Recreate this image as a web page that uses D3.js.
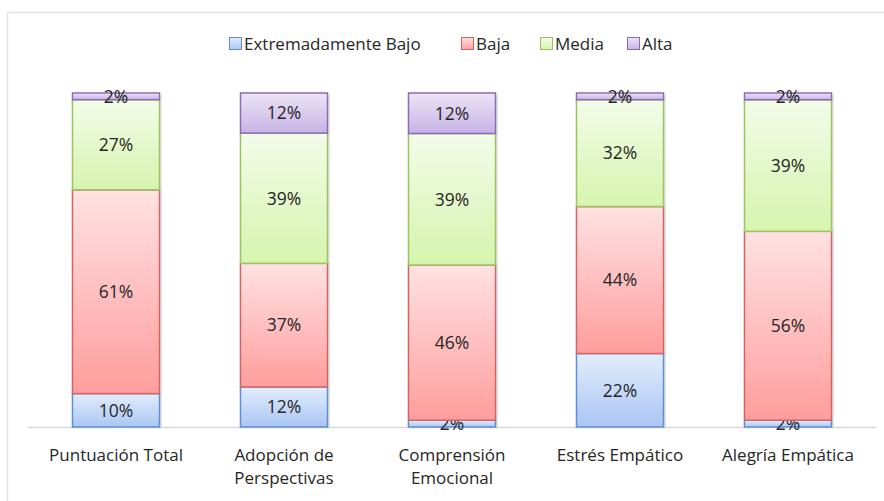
<!DOCTYPE html>
<html>
<head>
<meta charset="utf-8">
<script src="https://cdn.jsdelivr.net/npm/d3@7"></script>
<style>
  body { margin: 0; background: #fff; }
  svg text { font-family: "Open Sans", "Noto Sans", sans-serif; fill: #262626; }
</style>
</head>
<body>
<div id="chart"></div>
<script>
// data
const categories = ["Puntuación Total", "Adopción de Perspectivas", "Comprensión Emocional", "Estrés Empático", "Alegría Empática"];
const tickLabels = [["Puntuación Total"], ["Adopción de", "Perspectivas"], ["Comprensión", "Emocional"], ["Estrés Empático"], ["Alegría Empática"]];
const seriesNames = ["Extremadamente Bajo", "Baja", "Media", "Alta"];
const extBajo = [10, 12, 2, 22, 2];
const baja    = [61, 37, 46, 44, 56];
const media   = [27, 39, 39, 32, 39];
const alta    = [2, 12, 12, 2, 2];

const W = 884, H = 501;

// colours for each series: top of gradient, bottom of gradient, border
const colors = [
  { top: "#e3edfc", bot: "#a9c6f4", line: "#5f8fd3" },
  { top: "#ffe2e2", bot: "#ff9d9d", line: "#d36464" },
  { top: "#f3fce9", bot: "#d6f4ae", line: "#9cc264" },
  { top: "#ece4f6", bot: "#c7b3e5", line: "#8a6db0" }
];

const rows = categories.map((c, i) => ({
  cat: c,
  "Extremadamente Bajo": extBajo[i],
  "Baja": baja[i],
  "Media": media[i],
  "Alta": alta[i]
}));

const svg = d3.select("#chart").append("svg")
    .attr("width", W)
    .attr("height", H);

// gradients
const defs = svg.append("defs");
colors.forEach((c, i) => {
  const g = defs.append("linearGradient")
      .attr("id", "grad" + i)
      .attr("x1", 0).attr("y1", 0).attr("x2", 0).attr("y2", 1);
  g.append("stop").attr("offset", "0%").attr("stop-color", c.top);
  g.append("stop").attr("offset", "100%").attr("stop-color", c.bot);
});

// chart frame (partly visible in the picture)
svg.append("path")
    .attr("d", "M7.5," + H + " V12.5 H" + W)
    .attr("fill", "none")
    .attr("stroke", "#e4e4e4")
    .attr("stroke-width", 1.5);

const x = d3.scaleBand()
    .domain(categories)
    .range([32, 872])
    .paddingInner(0.476)
    .paddingOuter(0.238);

const y = d3.scaleLinear()
    .domain([0, 1])
    .range([427, 93]);

const stack = d3.stack()
    .keys(seriesNames)
    .offset(d3.stackOffsetExpand);
const layers = stack(rows);

// axis line
svg.append("line")
    .attr("x1", 28).attr("x2", 876)
    .attr("y1", y(0) + 0.5).attr("y2", y(0) + 0.5)
    .attr("stroke", "#d9d9d9")
    .attr("stroke-width", 1.5);

// soft shadow behind bars
svg.append("g").selectAll("rect")
    .data(categories)
    .enter()
    .append("rect")
      .attr("x", d => x(d) + 2)
      .attr("y", y(1) + 2)
      .attr("width", x.bandwidth())
      .attr("height", y(0) - y(1) - 2)
      .attr("fill", "#e6e6e6");

const groups = svg.append("g").selectAll("g")
    .data(layers)
    .enter()
    .append("g");

groups.selectAll("rect")
    .data((d, i) => d.map(p => ({ p: p, i: i })))
    .enter()
    .append("rect")
      .attr("x", d => x(d.p.data.cat) + 0.5)
      .attr("y", d => y(d.p[1]))
      .attr("width", x.bandwidth() - 1)
      .attr("height", d => y(d.p[0]) - y(d.p[1]))
      .attr("fill", d => "url(#grad" + d.i + ")")
      .attr("stroke", d => colors[d.i].line)
      .attr("stroke-width", 1.5);

// data labels
groups.selectAll("text")
    .data((d, i) => d.map(p => ({ p: p, i: i })))
    .enter()
    .append("text")
      .attr("x", d => x(d.p.data.cat) + x.bandwidth() / 2)
      .attr("y", d => (y(d.p[0]) + y(d.p[1])) / 2)
      .attr("dy", "0.36em")
      .attr("text-anchor", "middle")
      .attr("font-size", 17.5)
      .text(d => d.p.data[seriesNames[d.i]] + "%");

// category labels
const xAxis = svg.append("g");
xAxis.selectAll("text")
    .data(categories)
    .enter()
    .append("text")
      .attr("x", d => x(d) + x.bandwidth() / 2)
      .attr("y", 461)
      .attr("text-anchor", "middle")
      .attr("font-size", 17)
      .each(function(d, i) {
        const t = d3.select(this);
        tickLabels[i].forEach((line, k) => {
          t.append("tspan")
            .attr("x", x(d) + x.bandwidth() / 2)
            .attr("dy", k === 0 ? 0 : 23)
            .text(line);
        });
      });

// legend
const legendX = [229, 461, 540, 627];
const legend = svg.append("g").selectAll("g")
    .data(seriesNames)
    .enter()
    .append("g")
      .attr("transform", (d, i) => "translate(" + legendX[i] + ",44)");
legend.append("rect")
    .attr("x", 0.5).attr("y", -6.5)
    .attr("width", 12).attr("height", 12)
    .attr("fill", (d, i) => "url(#grad" + i + ")")
    .attr("stroke", (d, i) => colors[i].line);
legend.append("text")
    .attr("x", 15)
    .attr("dy", "0.36em")
    .attr("font-size", 17)
    .text(d => d);
</script>
</body>
</html>
